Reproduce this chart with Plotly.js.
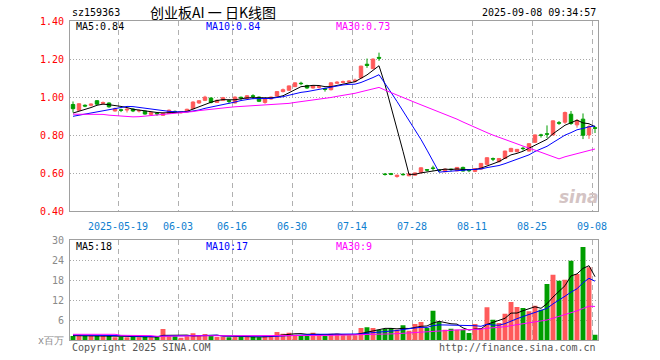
<!DOCTYPE html>
<html><head><meta charset="utf-8">
<script src="https://cdn.plot.ly/plotly-3.0.1.min.js"></script>
<style>html,body{margin:0;padding:0;background:#fff;}#chart{width:660px;height:360px;}</style>
</head><body><div id="chart"></div>
<script>
// ---- data ----
const dates = [
'2025-05-07','2025-05-08','2025-05-09',
'2025-05-12','2025-05-13','2025-05-14','2025-05-15','2025-05-16',
'2025-05-19','2025-05-20','2025-05-21','2025-05-22','2025-05-23',
'2025-05-26','2025-05-27','2025-05-28','2025-05-29','2025-05-30',
'2025-06-03','2025-06-04','2025-06-05','2025-06-06',
'2025-06-09','2025-06-10','2025-06-11','2025-06-12','2025-06-13',
'2025-06-16','2025-06-17','2025-06-18','2025-06-19','2025-06-20',
'2025-06-23','2025-06-24','2025-06-25','2025-06-26','2025-06-27',
'2025-06-30','2025-07-01','2025-07-02','2025-07-03','2025-07-04',
'2025-07-07','2025-07-08','2025-07-09','2025-07-10','2025-07-11',
'2025-07-14','2025-07-15','2025-07-16','2025-07-17','2025-07-18',
'2025-07-21','2025-07-22','2025-07-23','2025-07-24','2025-07-25',
'2025-07-28','2025-07-29','2025-07-30','2025-07-31','2025-08-01',
'2025-08-04','2025-08-05','2025-08-06','2025-08-07','2025-08-08',
'2025-08-11','2025-08-12','2025-08-13','2025-08-14','2025-08-15',
'2025-08-18','2025-08-19','2025-08-20','2025-08-21','2025-08-22',
'2025-08-25','2025-08-26','2025-08-27','2025-08-28','2025-08-29',
'2025-09-01','2025-09-02','2025-09-03','2025-09-04','2025-09-05',
'2025-09-08'];

const open = [
.962,.932,.958,.958,.982,.968,.970,.928,.934,.933,
.938,.928,.927,.910,.915,.905,.915,.926,.919,.924,
.940,.970,.984,.996,.973,.984,.982,.970,1.000,.994,
1.008,1.001,.973,.991,1.007,1.030,1.037,1.056,1.074,1.062,
1.049,1.053,1.046,1.040,1.074,1.078,1.080,1.084,1.102,1.174,
1.151,1.210,.596,.598,.583,.595,.587,.590,.603,.619,
.628,.618,.608,.622,.613,.631,.616,.610,.622,.647,
.677,.661,.678,.714,.714,.732,.717,.763,.802,.808,
.802,.866,.869,.911,.855,.885,.802,.840];
const high = [
.978,.970,.963,.968,.985,.978,.973,.946,.940,.943,
.942,.936,.929,.922,.920,.919,.936,.930,.926,.940,
.979,.986,1.008,1.000,.988,1.002,.988,1.005,1.004,1.012,
1.016,1.004,.995,1.004,1.032,1.046,1.062,1.078,1.082,1.066,
1.063,1.058,1.050,1.080,1.085,1.088,1.090,1.098,1.166,1.204,
1.205,1.235,.601,.602,.593,.600,.599,.604,.631,.622,
.640,.622,.625,.625,.633,.635,.620,.627,.654,.684,
.683,.680,.719,.734,.728,.740,.758,.804,.808,.852,
.878,.875,.925,.928,.885,.915,.855,.848];
const low = [
.920,.928,.948,.952,.960,.962,.945,.925,.922,.920,
.922,.920,.909,.908,.903,.902,.913,.916,.914,.922,
.938,.966,.980,.968,.970,.980,.968,.968,.985,.992,
.990,.975,.966,.988,1.005,1.026,1.035,1.054,1.064,1.045,
1.046,1.046,1.030,1.036,1.070,1.073,1.076,1.078,1.100,1.155,
1.148,1.192,.588,.590,.577,.588,.585,.588,.601,.610,
.614,.606,.606,.610,.611,.610,.606,.606,.620,.645,
.664,.658,.676,.712,.710,.720,.715,.760,.788,.786,
.800,.855,.860,.855,.840,.780,.781,.812];
const close = [
.940,.966,.954,.964,.964,.972,.950,.940,.932,.937,
.928,.930,.912,.919,.913,.916,.932,.922,.924,.937,
.975,.982,1.001,.973,.984,.998,.979,1.001,.997,1.008,
1.005,.979,.991,1.001,1.030,1.040,1.060,1.076,1.072,1.049,
1.060,1.055,1.042,1.076,1.079,1.082,1.085,1.090,1.164,1.168,
1.201,1.206,.594,.595,.590,.593,.597,.602,.629,.617,
.626,.615,.622,.620,.631,.612,.614,.625,.652,.682,
.675,.678,.717,.731,.726,.730,.756,.802,.800,.806,
.876,.864,.920,.862,.878,.800,.846,.837];

const ma5 = [
.917,.926,.936,.946,.958,.964,.961,.958,.952,.946,
.937,.933,.928,.925,.920,.918,.918,.920,.921,.926,
.938,.948,.964,.974,.983,.988,.987,.987,.992,.997,
.998,.998,.996,.997,1.001,1.008,1.024,1.041,1.056,1.059,
1.063,1.062,1.056,1.056,1.062,1.067,1.073,1.082,1.100,1.118,
1.142,1.166,1.067,.953,.837,.716,.594,.595,.602,.608,
.614,.618,.622,.620,.623,.620,.620,.620,.627,.637,
.650,.662,.681,.697,.705,.716,.732,.749,.763,.779,
.808,.830,.853,.866,.880,.865,.861,.845];
const ma10 = [
.900,.906,.912,.918,.925,.932,.938,.943,.948,.952,
.951,.947,.943,.938,.933,.928,.926,.924,.923,.923,
.928,.933,.942,.948,.955,.963,.968,.975,.983,.990,
.993,.993,.992,.994,.999,1.003,1.011,1.019,1.026,1.030,
1.036,1.043,1.049,1.056,1.061,1.065,1.068,1.069,1.078,1.090,
1.104,1.119,1.075,1.026,.978,.929,.880,.831,.778,.722,
.665,.606,.609,.611,.615,.617,.619,.621,.623,.630,
.635,.641,.651,.662,.671,.683,.697,.715,.730,.742,
.762,.781,.801,.814,.829,.836,.845,.849];
const ma30 = [
.911,.911,.911,.910,.910,.910,.906,.903,.902,.899,
.897,.898,.901,.903,.906,.908,.912,.915,.917,.919,
.925,.930,.934,.938,.942,.945,.947,.950,.952,.955,
.957,.958,.959,.960,.962,.965,.968,.973,.977,.981,
.986,.990,.994,.999,1.005,1.010,1.015,1.021,1.029,1.037,
1.044,1.052,1.038,1.026,1.012,.999,.986,.973,.961,.948,
.935,.923,.911,.898,.885,.870,.855,.840,.826,.814,
.801,.789,.778,.766,.755,.743,.732,.722,.710,.698,
.687,.676,.687,.696,.705,.712,.720,.728];

// volume, x 1,000,000
const vol = [
1.3,1.4,1.4,1.4,1.4,1.4,1.4,0.9,1.1,0.9,
1.0,0.9,1.0,0.9,1.0,3.4,1.2,1.2,0.8,1.2,
2.1,1.3,1.9,1.3,1.0,1.1,0.9,1.0,1.1,1.0,
1.0,0.9,1.3,1.3,2.5,2.0,2.3,1.7,1.5,1.5,
2.3,1.7,1.3,2.0,2.0,1.5,1.5,1.5,3.7,3.9,
3.7,3.2,3.4,3.7,3.2,4.5,2.9,4.9,5.5,3.7,
8.9,5.5,3.2,3.5,3.2,3.2,2.2,4.9,3.7,9.9,
6.2,5.2,8.0,11.5,10.0,9.7,8.7,10.4,9.2,16.9,
19.7,17.9,18.2,23.9,19.9,28.0,21.9,1.7];
const vma5 = [
1.4,1.4,1.4,1.4,1.38,1.40,1.40,1.32,1.28,1.20,
1.12,1.04,1.04,1.00,1.00,1.48,1.52,1.56,1.52,1.56,
1.30,1.32,1.46,1.56,1.52,1.30,1.24,1.06,1.00,1.00,
1.00,1.00,1.06,1.12,1.42,1.62,1.88,1.96,2.00,1.80,
1.86,1.74,1.66,1.76,1.86,1.70,1.66,1.70,2.04,2.42,
2.86,3.20,3.58,3.58,3.44,3.60,3.54,3.84,4.20,4.30,
5.18,5.70,5.36,4.96,4.86,3.72,3.06,3.40,3.44,4.78,
5.38,5.98,6.60,8.16,8.18,8.88,9.58,10.06,9.60,10.98,
12.98,14.82,16.38,19.32,19.92,21.58,22.38,19.08];
const vma10 = [
1.6,1.6,1.55,1.55,1.5,1.5,1.5,1.45,1.4,1.29,
1.26,1.22,1.18,1.14,1.10,1.30,1.28,1.30,1.26,1.28,
1.39,1.42,1.51,1.54,1.54,1.30,1.28,1.26,1.28,1.26,
1.15,1.12,1.06,1.06,1.21,1.31,1.44,1.51,1.56,1.61,
1.74,1.81,1.81,1.88,1.83,1.78,1.70,1.68,1.90,2.14,
2.28,2.43,2.64,2.81,2.93,3.23,3.37,3.71,3.89,3.87,
4.39,4.62,4.60,4.58,4.58,4.45,4.38,4.38,4.20,4.82,
4.55,4.52,5.00,5.80,6.48,7.13,7.78,8.33,8.88,9.58,
10.93,12.20,13.22,14.46,15.45,17.28,18.60,17.73];
const vma30 = [
1.8,1.8,1.8,1.8,1.8,1.8,1.8,1.8,1.5,1.5,
1.45,1.45,1.4,1.4,1.2,1.25,1.3,1.35,1.35,1.35,
1.35,1.35,1.35,1.35,1.35,1.3,1.3,1.3,1.3,1.28,
1.27,1.25,1.25,1.25,1.28,1.30,1.33,1.36,1.37,1.38,
1.43,1.45,1.46,1.49,1.53,1.46,1.47,1.48,1.58,1.67,
1.72,1.79,1.84,1.92,1.99,2.11,2.17,2.30,2.45,2.54,
2.80,2.95,3.02,3.09,3.11,3.15,3.15,3.26,3.33,3.61,
3.74,3.86,4.08,4.40,4.66,4.94,5.18,5.47,5.66,6.09,
6.62,7.11,7.61,8.28,8.84,9.62,10.25,10.15];

const tickDates  = ['2025-05-19','2025-06-03','2025-06-16','2025-06-30','2025-07-14','2025-07-28','2025-08-11','2025-08-25','2025-09-08'];
const tickLabels = ['2025-05-19','06-03','06-16','06-30','07-14','07-28','08-11','08-25','09-08'];
const priceTicks = [0.40,0.60,0.80,1.00,1.20,1.40];
const priceTickText = ['0.40','0.60','0.80','1.00','1.20','1.40'];
const volTicks = [0,6,12,18,24,30];
const volTickText = ['x百万','6','12','18','24','30'];

const stockCode = 'sz159363';
const chartTitle = '创业板AI 一 日K线图';
const stamp = '2025-09-08 09:34:57';
const priceMaLabels = ['MA5:0.84','MA10:0.84','MA30:0.73'];
const volMaLabels = ['MA5:18','MA10:17','MA30:9'];

// ---- drawing ----
const RED = '#ff5a5a', GREEN = '#009e00';
const MA_COLORS = ['#000000','#0000ff','#ff00ff'];
const MONO = 'DejaVu Sans Mono, monospace';
const idx = dates.map((d,i)=>i);
const tickvals = tickDates.map(d => dates.indexOf(d) - 0.5);
const volColors = close.map((c,i)=> c > open[i] ? RED : GREEN);

const traces = [
  {type:'candlestick', x:idx, open:open, high:high, low:low, close:close,
   xaxis:'x', yaxis:'y', whiskerwidth:0, hoverinfo:'skip',
   increasing:{line:{color:RED,width:1}, fillcolor:RED},
   decreasing:{line:{color:GREEN,width:1}, fillcolor:GREEN}},
  {type:'scatter', mode:'lines', x:idx, y:ma5, xaxis:'x', yaxis:'y', line:{color:MA_COLORS[0],width:1}, hoverinfo:'skip'},
  {type:'scatter', mode:'lines', x:idx, y:ma10, xaxis:'x', yaxis:'y', line:{color:MA_COLORS[1],width:1}, hoverinfo:'skip'},
  {type:'scatter', mode:'lines', x:idx, y:ma30, xaxis:'x', yaxis:'y', line:{color:MA_COLORS[2],width:1}, hoverinfo:'skip'},
  {type:'bar', x:idx, y:vol, xaxis:'x2', yaxis:'y2', marker:{color:volColors, line:{width:0}}, hoverinfo:'skip'},
  {type:'scatter', mode:'lines', x:idx, y:vma5, xaxis:'x2', yaxis:'y2', line:{color:MA_COLORS[0],width:1}, hoverinfo:'skip'},
  {type:'scatter', mode:'lines', x:idx, y:vma10, xaxis:'x2', yaxis:'y2', line:{color:MA_COLORS[1],width:1}, hoverinfo:'skip'},
  {type:'scatter', mode:'lines', x:idx, y:vma30, xaxis:'x2', yaxis:'y2', line:{color:MA_COLORS[2],width:1}, hoverinfo:'skip'}
];

const W = 660, H = 360;
const fx = x => x / W, fy = y => 1 - y / H;
const XDOM = [fx(70), fx(598)];
const xbase = {domain:XDOM, range:[-0.5, dates.length-0.5], tickvals:tickvals, ticktext:tickLabels,
  showgrid:true, gridcolor:'#b0b0b0', griddash:'5px,4px', gridwidth:1,
  showline:true, mirror:true, linecolor:'#a0a0a0', linewidth:1, ticks:'', zeroline:false,
  fixedrange:true, rangeslider:{visible:false}};
const ybase = {showgrid:true, gridcolor:'#a8a8a8', griddash:'1px,2px', gridwidth:1,
  showline:true, mirror:true, linecolor:'#a0a0a0', linewidth:1, ticks:'', zeroline:false, fixedrange:true};

function note(text, x, y, anchor, color, font, size, extra){
  return Object.assign({text:text, x:fx(x), y:fy(y), xref:'paper', yref:'paper', xanchor:anchor, yanchor:'middle',
    showarrow:false, font:{family:font||MONO, size:size||10, color:color||'#000'}}, extra||{});
}

const layout = {
  width:W, height:H, margin:{l:0,r:0,t:0,b:0}, paper_bgcolor:'#fff', plot_bgcolor:'#fff',
  showlegend:false, boxgap:0.18, bargap:0.18, hovermode:false,
  xaxis: Object.assign({}, xbase, {anchor:'y', tickfont:{family:MONO,size:10,color:'#1080d0'}, ticklabelstandoff:6}),
  yaxis: Object.assign({}, ybase, {anchor:'x', domain:[fy(211.3), fy(21.3)], range:[0.40,1.40],
     tickvals:priceTicks, ticktext:priceTickText, tickfont:{family:MONO,size:10,color:'#ff0000'}, ticklabelstandoff:3}),
  xaxis2: Object.assign({}, xbase, {anchor:'y2', showticklabels:false}),
  yaxis2: Object.assign({}, ybase, {anchor:'x2', domain:[fy(340.3), fy(240.3)], range:[0,30],
     tickvals:volTicks, ticktext:volTickText, tickfont:{family:MONO,size:10,color:'#8a8a8a'}, ticklabelstandoff:3}),
  annotations: [
    note(stockCode, 70, 13, 'left'),
    note(chartTitle, 213, 12, 'center', '#000', 'Noto Sans CJK SC, sans-serif', 14),
    note(stamp, 598, 13, 'right'),
    note(priceMaLabels[0], 74, 27, 'left', MA_COLORS[0]),
    note(priceMaLabels[1], 204, 27, 'left', MA_COLORS[1]),
    note(priceMaLabels[2], 334, 27, 'left', MA_COLORS[2]),
    note(volMaLabels[0], 74, 246, 'left', MA_COLORS[0]),
    note(volMaLabels[1], 204, 246, 'left', MA_COLORS[1]),
    note(volMaLabels[2], 334, 246, 'left', MA_COLORS[2]),
    note('Copyright 2025 SINA.COM', 70, 347, 'left', '#555'),
    note('http://finance.sina.com.cn', 598, 347, 'right', '#555'),
    note('<b><i>sina</i></b>', 579, 197, 'center', '#d4c4c4', 'DejaVu Sans, sans-serif', 17)
  ]
};

Plotly.newPlot('chart', traces, layout, {staticPlot:true, displayModeBar:false});
</script>
</body></html>
